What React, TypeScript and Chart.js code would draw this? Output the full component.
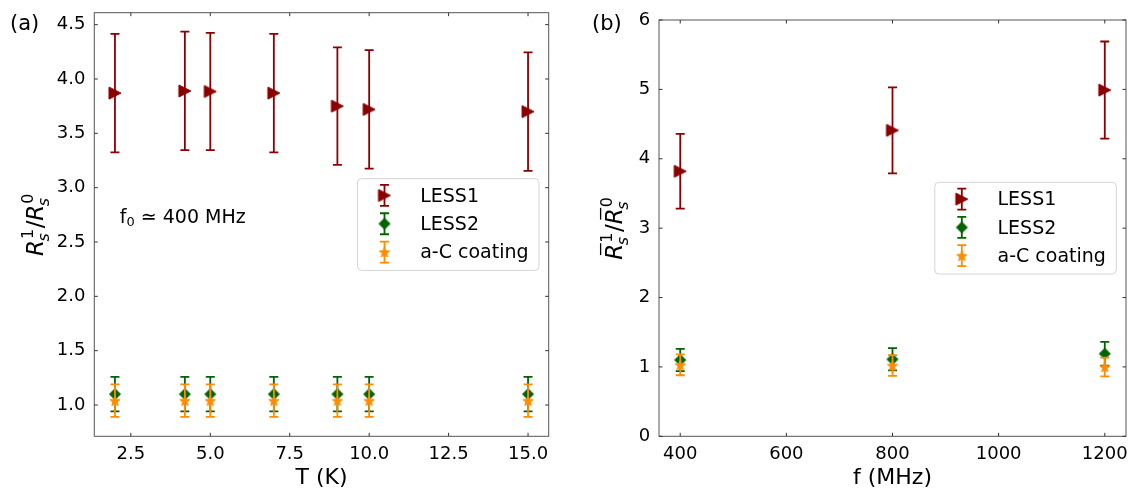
import React, { useEffect, useRef } from 'react';
import { Chart, registerables } from 'chart.js';

Chart.register(...registerables);

// ---------------- data ----------------
const seriesNames = ['LESS1', 'LESS2', 'a-C coating'];
const seriesColors = ['#8b0000', '#006400', '#ff8c00'];
const seriesMarkers = ['triangle', 'diamond', 'star'];

// panel (a): ratio vs temperature
const temperatureK = [2, 4.2, 5, 7, 9, 10, 15];
const less1VsT = [3.87, 3.89, 3.885, 3.87, 3.75, 3.72, 3.7];
const less1VsTErr = [0.545, 0.545, 0.54, 0.545, 0.54, 0.545, 0.545];
const less2VsT = [1.1, 1.1, 1.1, 1.1, 1.1, 1.1, 1.1];
const less2VsTErr = [0.158, 0.158, 0.158, 0.158, 0.158, 0.158, 0.158];
const acVsT = [1.04, 1.04, 1.04, 1.04, 1.04, 1.04, 1.04];
const acVsTErr = [0.15, 0.15, 0.15, 0.15, 0.15, 0.15, 0.15];

// panel (b): ratio vs frequency
const frequencyMHz = [400, 800, 1200];
const less1VsF = [3.82, 4.41, 4.99];
const less1VsFErr = [0.54, 0.62, 0.7];
const less2VsF = [1.1, 1.11, 1.19];
const less2VsFErr = [0.16, 0.16, 0.17];
const acVsF = [1.03, 1.02, 1.0];
const acVsFErr = [0.15, 0.15, 0.135];

// tick labels
const tTickValues = [2.5, 5, 7.5, 10, 12.5, 15];
const ratioTickValuesA = [1.0, 1.5, 2.0, 2.5, 3.0, 3.5, 4.0, 4.5];
const fTickValues = [400, 600, 800, 1000, 1200];
const ratioTickValuesB = [0, 1, 2, 3, 4, 5, 6];

const FONT = '"DejaVu Sans", "Noto Sans", sans-serif';

// ---------------- helpers ----------------
function makeMarker(kind: string, color: string): HTMLCanvasElement {
  const c = document.createElement('canvas');
  const size = 16;
  c.width = size;
  c.height = size;
  const g = c.getContext('2d')!;
  const m = size / 2;
  g.fillStyle = color;
  g.strokeStyle = color;
  g.lineWidth = 1;
  g.lineJoin = 'miter';
  g.beginPath();
  if (kind === 'triangle') {
    g.moveTo(m + 6, m);
    g.lineTo(m - 6, m - 6);
    g.lineTo(m - 6, m + 6);
  } else if (kind === 'diamond') {
    g.moveTo(m, m - 5.5);
    g.lineTo(m + 5.5, m);
    g.lineTo(m, m + 5.5);
    g.lineTo(m - 5.5, m);
  } else {
    const R = 5.4;
    const r = R * 0.42;
    for (let i = 0; i < 10; i++) {
      const rad = i % 2 === 0 ? R : r;
      const ang = -Math.PI / 2 + (i * Math.PI) / 5;
      const px = m + rad * Math.cos(ang);
      const py = m + 0.6 + rad * Math.sin(ang);
      if (i === 0) g.moveTo(px, py);
      else g.lineTo(px, py);
    }
  }
  g.closePath();
  g.fill();
  g.stroke();
  return c;
}

function drawErrorBar(ctx: CanvasRenderingContext2D, x: number, yt: number, yb: number, color: string) {
  ctx.save();
  ctx.strokeStyle = color;
  ctx.lineWidth = 1.8;
  ctx.beginPath();
  ctx.moveTo(x, yt);
  ctx.lineTo(x, yb);
  ctx.moveTo(x - 4.5, yt);
  ctx.lineTo(x + 4.5, yt);
  ctx.moveTo(x - 4.5, yb);
  ctx.lineTo(x + 4.5, yb);
  ctx.stroke();
  ctx.restore();
}

function drawMathYLabel(ctx: CanvasRenderingContext2D, baseX: number, centerY: number, bar: boolean) {
  const big = 23;
  const small = 16;
  const fItal = `italic ${big}px ${FONT}`;
  const fSmallItal = `italic ${small}px ${FONT}`;
  const fUp = `${big}px ${FONT}`;
  const fSmallUp = `${small}px ${FONT}`;
  ctx.save();
  ctx.fillStyle = '#000';
  ctx.textBaseline = 'alphabetic';
  ctx.textAlign = 'left';
  ctx.font = fItal;
  const wR = ctx.measureText('R').width;
  ctx.font = fSmallItal;
  const wS = ctx.measureText('s').width;
  ctx.font = fSmallUp;
  const w1 = ctx.measureText('1').width;
  ctx.font = fUp;
  const wSlash = ctx.measureText('/').width;
  const groupW = wR + Math.max(wS, w1) + 1.5;
  const total = groupW * 2 + wSlash;
  ctx.translate(baseX, centerY);
  ctx.rotate(-Math.PI / 2);
  const group = (x0: number, sup: string) => {
    ctx.font = fItal;
    ctx.fillText('R', x0, 0);
    if (bar) {
      ctx.save();
      ctx.strokeStyle = '#000';
      ctx.lineWidth = 1.3;
      ctx.beginPath();
      ctx.moveTo(x0 + 0.2 * big, -0.93 * big);
      ctx.lineTo(x0 + wR + 0.02 * big, -0.93 * big);
      ctx.stroke();
      ctx.restore();
    }
    ctx.font = fSmallItal;
    ctx.fillText('s', x0 + wR - 1.5, 0.24 * big);
    ctx.font = fSmallUp;
    ctx.fillText(sup, x0 + wR + 1, -0.45 * big);
  };
  let x = -total / 2;
  group(x, '1');
  x += groupW;
  ctx.font = fUp;
  ctx.fillText('/', x, 0);
  x += wSlash;
  group(x, '0');
  ctx.restore();
}

function drawLegend(ctx: CanvasRenderingContext2D, area: any, markers: HTMLCanvasElement[]) {
  const w = 181.5;
  const h = 91.7;
  const right = area.right - 9.7;
  const left = right - w;
  const top = (area.top + area.bottom) / 2 - h / 2;
  ctx.save();
  ctx.beginPath();
  const r = 4;
  ctx.moveTo(left + r, top);
  ctx.lineTo(left + w - r, top);
  ctx.quadraticCurveTo(left + w, top, left + w, top + r);
  ctx.lineTo(left + w, top + h - r);
  ctx.quadraticCurveTo(left + w, top + h, left + w - r, top + h);
  ctx.lineTo(left + r, top + h);
  ctx.quadraticCurveTo(left, top + h, left, top + h - r);
  ctx.lineTo(left, top + r);
  ctx.quadraticCurveTo(left, top, left + r, top);
  ctx.closePath();
  ctx.fillStyle = 'rgba(255,255,255,0.8)';
  ctx.fill();
  ctx.strokeStyle = '#d4d4d4';
  ctx.lineWidth = 1;
  ctx.stroke();
  seriesNames.forEach((name, i) => {
    const cy = top + 16.8 + i * 28.3;
    const mx = left + 27;
    drawErrorBar(ctx, mx, cy - 10.5, cy + 10.5, seriesColors[i]);
    const mk = markers[i];
    ctx.drawImage(mk, mx - mk.width / 2, cy - mk.height / 2);
    ctx.font = `19px ${FONT}`;
    ctx.fillStyle = '#000';
    ctx.textBaseline = 'middle';
    ctx.textAlign = 'left';
    ctx.fillText(name, left + 62.7, cy + 1.3);
  });
  ctx.restore();
}

type PanelSpec = {
  letter: string;
  letterX: number;
  xs: number[];
  ys: number[][];
  errs: number[][];
  xMin: number;
  xMax: number;
  yMin: number;
  yMax: number;
  xTicks: number[];
  yTicks: number[];
  decimals: number;
  xTitle: string;
  bar: boolean;
  yLabelX: number;
  padTop: number;
  padRight: number;
  yAxisWidth: number;
  annotate: boolean;
};

function buildConfig(spec: PanelSpec): any {
  const markers = seriesMarkers.map((m, i) => makeMarker(m, seriesColors[i]));
  const datasets = spec.ys.map((ys, i) => ({
    label: seriesNames[i],
    data: spec.xs.map((x, j) => ({ x, y: ys[j] })),
    errors: spec.errs[i],
    pointStyle: markers[i],
    pointRadius: 6,
    pointHoverRadius: 6,
    showLine: false,
    order: 3 - i,
    borderColor: seriesColors[i],
    backgroundColor: seriesColors[i],
  }));

  const panelPlugin = {
    id: 'panelDecor' + spec.letter,
    beforeDatasetDraw(chart: any, args: any) {
      const ds = chart.data.datasets[args.index];
      const yScale = chart.scales.y;
      const ctx = chart.ctx;
      args.meta.data.forEach((pt: any, j: number) => {
        const raw = ds.data[j];
        const e = ds.errors[j];
        const yt = yScale.getPixelForValue(raw.y + e);
        const yb = yScale.getPixelForValue(raw.y - e);
        drawErrorBar(ctx, pt.x, yt, yb, ds.borderColor);
      });
    },
    afterDraw(chart: any) {
      const ctx = chart.ctx as CanvasRenderingContext2D;
      const a = chart.chartArea;
      const xs = chart.scales.x;
      const ysc = chart.scales.y;
      ctx.save();
      // spines
      ctx.strokeStyle = '#555';
      ctx.lineWidth = 1;
      ctx.strokeRect(a.left, a.top, a.right - a.left, a.bottom - a.top);
      // inward ticks on all sides
      ctx.strokeStyle = '#333';
      ctx.beginPath();
      xs.ticks.forEach((t: any) => {
        const px = xs.getPixelForValue(t.value);
        ctx.moveTo(px, a.bottom);
        ctx.lineTo(px, a.bottom - 3.5);
        ctx.moveTo(px, a.top);
        ctx.lineTo(px, a.top + 3.5);
      });
      ysc.ticks.forEach((t: any) => {
        const py = ysc.getPixelForValue(t.value);
        ctx.moveTo(a.left, py);
        ctx.lineTo(a.left + 3.5, py);
        ctx.moveTo(a.right, py);
        ctx.lineTo(a.right - 3.5, py);
      });
      ctx.stroke();
      // panel letter
      ctx.fillStyle = '#000';
      ctx.font = `21px ${FONT}`;
      ctx.textBaseline = 'middle';
      ctx.textAlign = 'left';
      ctx.fillText(spec.letter, spec.letterX, 25);
      ctx.restore();
      // y label
      drawMathYLabel(ctx, spec.yLabelX, (a.top + a.bottom) / 2, spec.bar);
      // annotation
      if (spec.annotate) {
        ctx.save();
        ctx.fillStyle = '#000';
        ctx.textBaseline = 'middle';
        ctx.textAlign = 'left';
        let x = a.left + 0.056 * (a.right - a.left);
        const y = 218.5;
        ctx.font = `19px ${FONT}`;
        ctx.fillText('f', x, y);
        x += ctx.measureText('f').width;
        ctx.font = `13px ${FONT}`;
        ctx.fillText('0', x, y + 4.5);
        x += ctx.measureText('0').width;
        ctx.font = `19px ${FONT}`;
        ctx.fillText(' \u2243 400 MHz', x, y);
        ctx.restore();
      }
      drawLegend(ctx, a, markers);
    },
  };

  const tickFont = { family: FONT, size: 18 };
  return {
    type: 'scatter',
    data: { datasets },
    options: {
      responsive: false,
      animation: false,
      devicePixelRatio: 1,
      events: [],
      layout: { padding: { left: 0, top: spec.padTop, right: spec.padRight, bottom: 0 } },
      plugins: { legend: { display: false }, tooltip: { enabled: false } },
      scales: {
        x: {
          type: 'linear',
          min: spec.xMin,
          max: spec.xMax,
          grid: { display: false, drawTicks: false },
          border: { display: false },
          ticks: {
            font: tickFont,
            color: '#000',
            padding: 7.6,
            autoSkip: false,
            maxRotation: 0,
            callback: (v: any) => (spec.decimals ? Number(v).toFixed(spec.decimals) : String(v)),
          },
          title: {
            display: true,
            text: spec.xTitle,
            color: '#000',
            font: { family: FONT, size: 22, lineHeight: 0.9 },
            padding: 0,
          },
          afterBuildTicks: (scale: any) => {
            scale.ticks = spec.xTicks.map((v) => ({ value: v }));
          },
          afterFit: (scale: any) => {
            scale.height = 51.7;
            scale.paddingLeft = 0;
            scale.paddingRight = 0;
            scale.paddingTop = 0;
            scale.paddingBottom = 0;
          },
        },
        y: {
          type: 'linear',
          min: spec.yMin,
          max: spec.yMax,
          grid: { display: false, drawTicks: false },
          border: { display: false },
          ticks: {
            font: tickFont,
            color: '#000',
            padding: 8.8,
            autoSkip: false,
            callback: (v: any) => (spec.decimals ? Number(v).toFixed(spec.decimals) : String(v)),
          },
          afterBuildTicks: (scale: any) => {
            scale.ticks = spec.yTicks.map((v) => ({ value: v }));
          },
          afterFit: (scale: any) => {
            scale.width = spec.yAxisWidth;
            scale.paddingLeft = 0;
            scale.paddingRight = 0;
            scale.paddingTop = 0;
            scale.paddingBottom = 0;
          },
        },
      },
    },
    plugins: [panelPlugin],
  };
}

export default function App() {
  const refA = useRef<HTMLCanvasElement>(null);
  const refB = useRef<HTMLCanvasElement>(null);

  useEffect(() => {
    Chart.defaults.font.family = FONT;
    const specA: PanelSpec = {
      letter: '(a)',
      letterX: 10,
      xs: temperatureK,
      ys: [less1VsT, less2VsT, acVsT],
      errs: [less1VsTErr, less2VsTErr, acVsTErr],
      xMin: 1.35,
      xMax: 15.65,
      yMin: 0.712,
      yMax: 4.61,
      xTicks: tTickValues,
      yTicks: ratioTickValuesA,
      decimals: 1,
      xTitle: 'T (K)',
      bar: false,
      yLabelX: 43,
      padTop: 12.7,
      padRight: 580 - 548.7,
      yAxisWidth: 94.3,
      annotate: true,
    };
    const specB: PanelSpec = {
      letter: '(b)',
      letterX: 12,
      xs: frequencyMHz,
      ys: [less1VsF, less2VsF, acVsF],
      errs: [less1VsFErr, less2VsFErr, acVsFErr],
      xMin: 360,
      xMax: 1240,
      yMin: 0,
      yMax: 6,
      xTicks: fTickValues,
      yTicks: ratioTickValuesB,
      decimals: 0,
      xTitle: 'f (MHz)',
      bar: true,
      yLabelX: 42,
      padTop: 20,
      padRight: 553 - 548.7,
      yAxisWidth: 79,
      annotate: false,
    };
    const a = new Chart(refA.current!, buildConfig(specA));
    const b = new Chart(refB.current!, buildConfig(specB));
    return () => {
      a.destroy();
      b.destroy();
    };
  }, []);

  return (
    <div style={{ position: 'absolute', left: 0, top: 0, width: 1133, height: 488, background: '#fff' }}>
      <canvas ref={refA} width={580} height={488} style={{ position: 'absolute', left: 0, top: 0 }} />
      <canvas ref={refB} width={553} height={488} style={{ position: 'absolute', left: 580, top: 0 }} />
    </div>
  );
}
